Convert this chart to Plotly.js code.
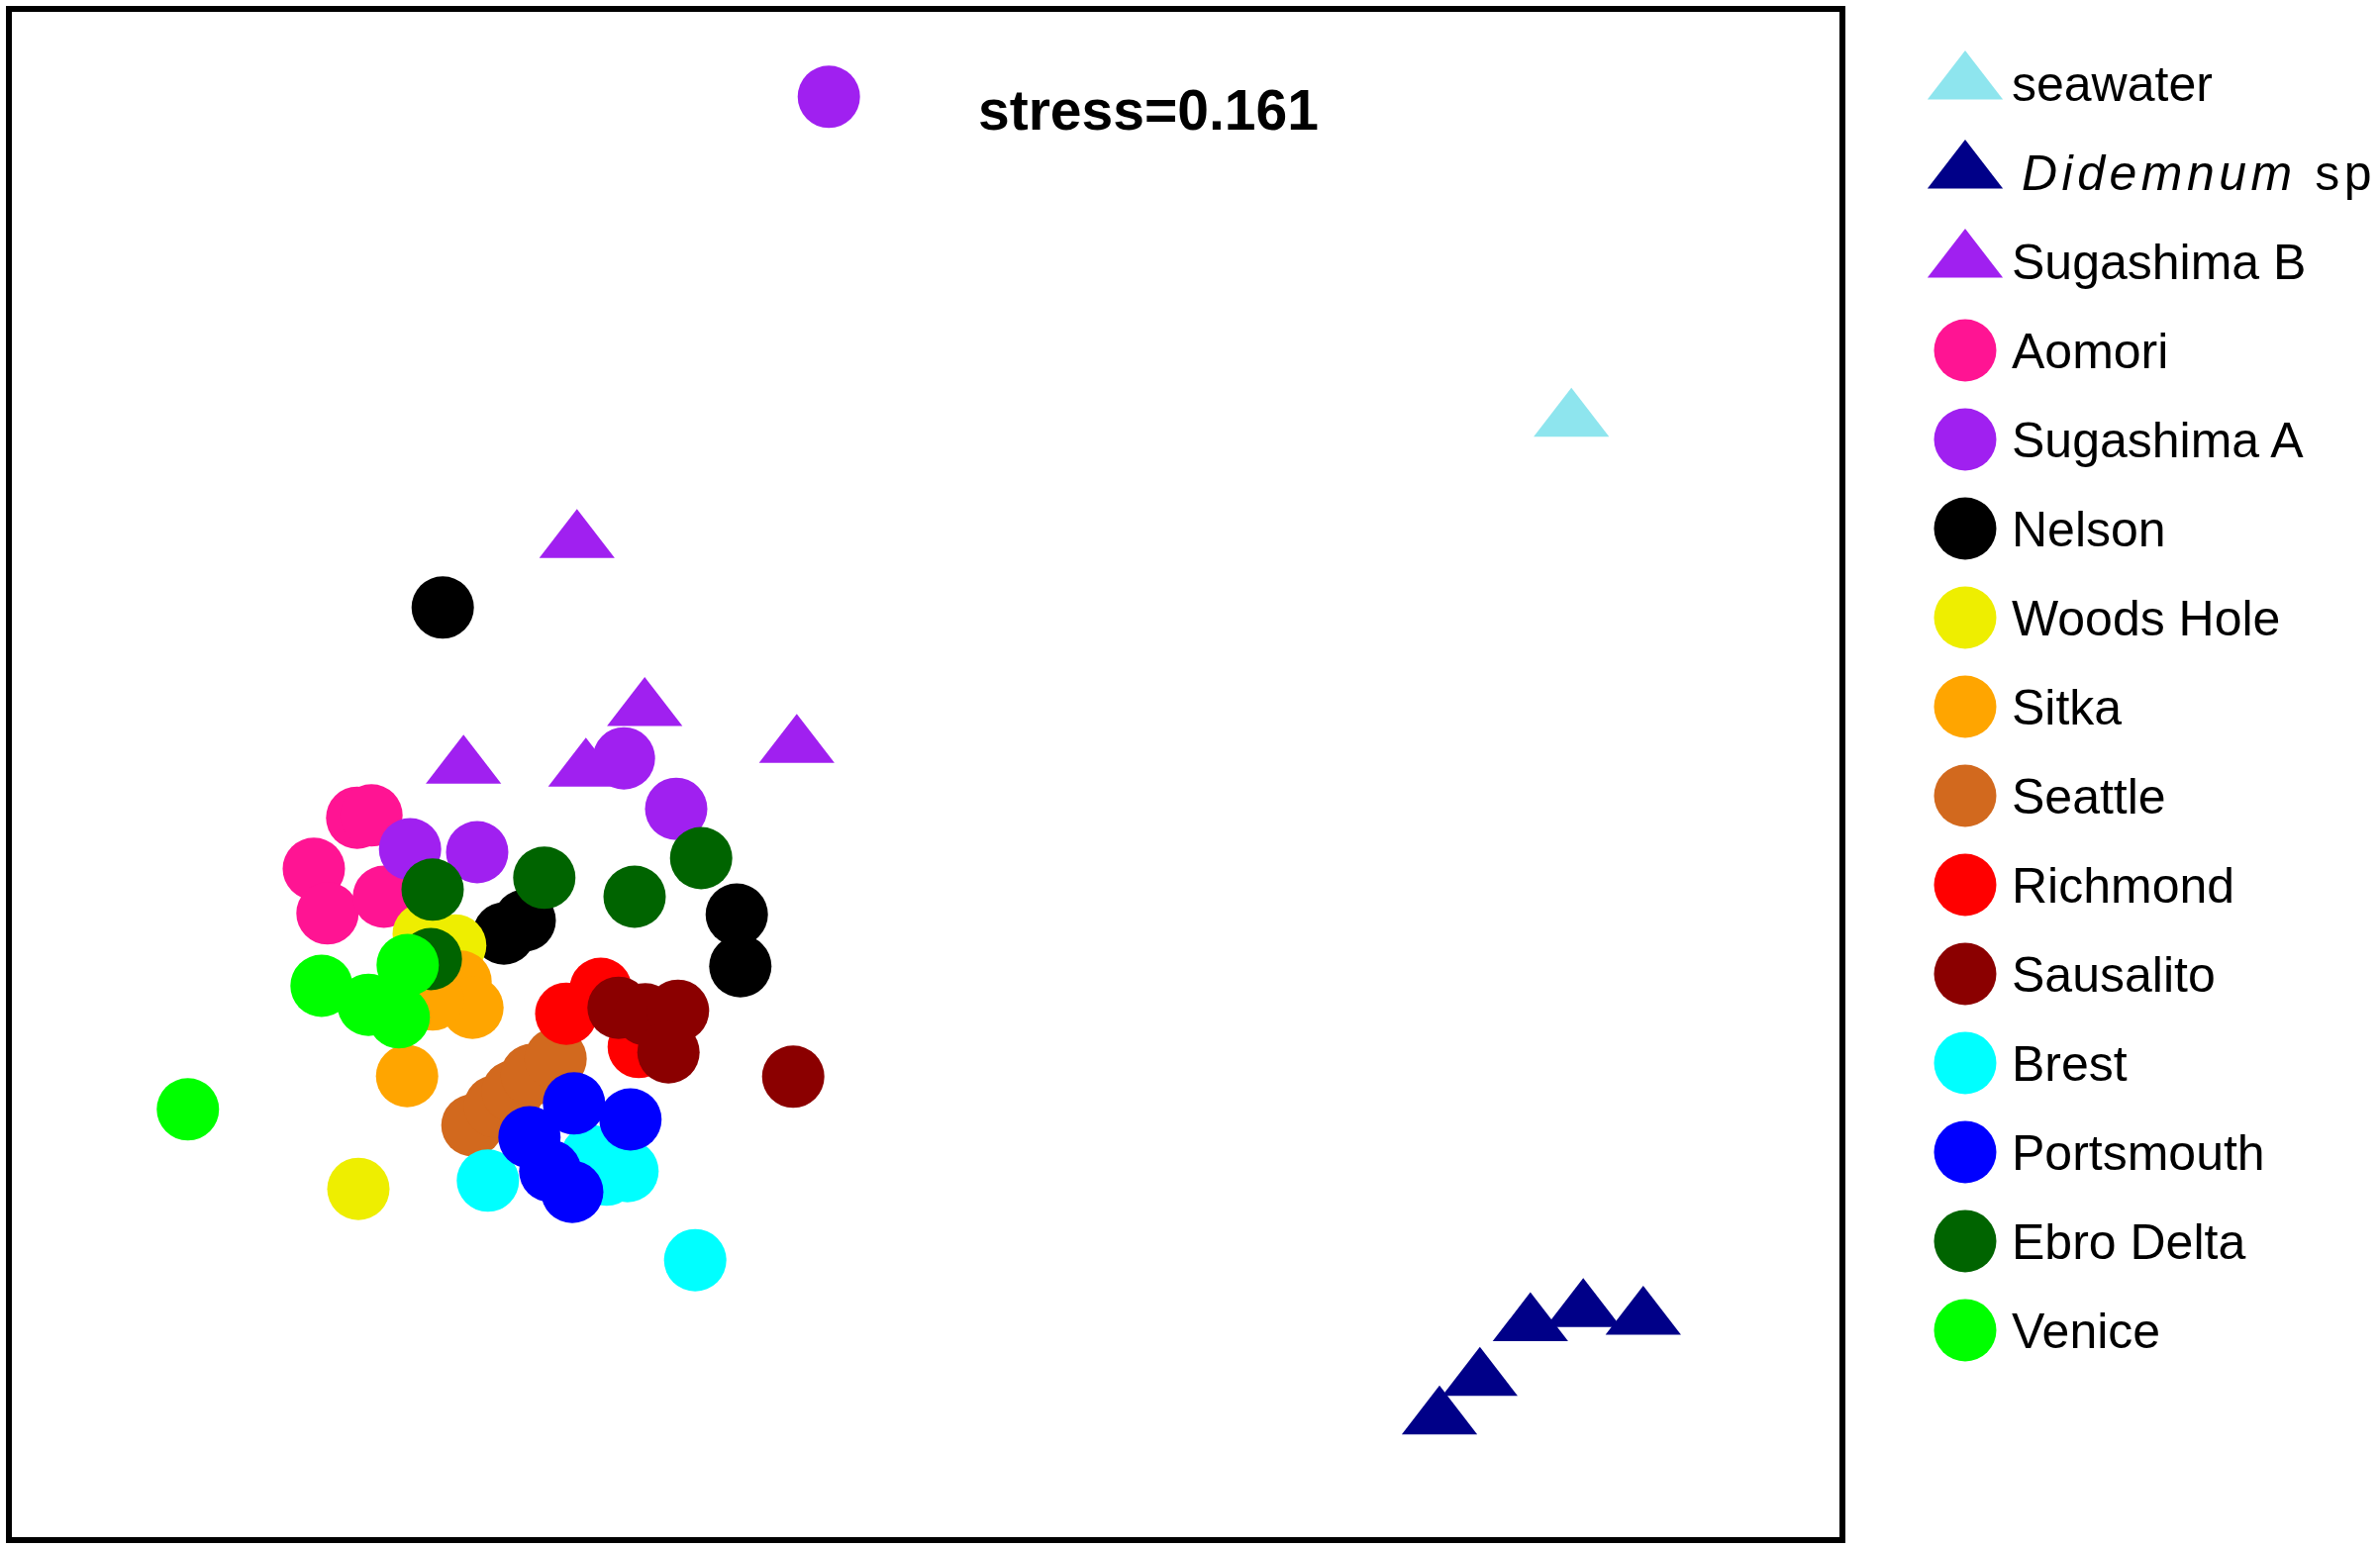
<!DOCTYPE html>
<html>
<head>
<meta charset="utf-8">
<script src="https://cdn.plot.ly/plotly-3.0.1.min.js"></script>
<style>
  html, body { margin: 0; padding: 0; background: #ffffff; }
  #chart { width: 2404px; height: 1565px; }
</style>
</head>
<body>
<div id="chart"></div>
<script>
// ---- Data (NMDS ordination) ----
const categories = ["seawater", "Didemnum sp", "Sugashima B", "Aomori", "Sugashima A", "Nelson",
  "Woods Hole", "Sitka", "Seattle", "Richmond", "Sausalito", "Brest", "Portsmouth", "Ebro Delta", "Venice"];
const legendLabels = ["seawater", "<i>Didemnum</i> sp", "Sugashima B", "Aomori", "Sugashima A", "Nelson",
  "Woods Hole", "Sitka", "Seattle", "Richmond", "Sausalito", "Brest", "Portsmouth", "Ebro Delta", "Venice"];
const colors = ["#8EE5EE", "#000088", "#A020F0", "#FF1493", "#A020F0", "#000000",
  "#EEEE00", "#FFA500", "#D2691E", "#FF0000", "#8B0000", "#00FFFF", "#0000FF", "#006400", "#00FF00"];
const symbols = ["triangle-up", "triangle-up", "triangle-up", "circle", "circle", "circle",
  "circle", "circle", "circle", "circle", "circle", "circle", "circle", "circle", "circle"];

const seawaterX = [1.087];
const seawaterY = [0.597];
const didemnumX = [0.865, 0.933, 1.018, 1.107, 1.208];
const didemnumY = [-1.083, -1.018, -0.926, -0.902, -0.915];
const sugashimaBX = [-0.587, -0.778, -0.572, -0.473, -0.217];
const sugashimaBY = [0.393, 0.013, 0.008, 0.110, 0.048];
const aomoriX = [-0.957, -0.933, -1.030, -1.007, -0.912];
const aomoriY = [-0.072, -0.068, -0.158, -0.233, -0.205];
const sugashimaAX = [-0.163, -0.508, -0.420, -0.868, -0.755];
const sugashimaAY = [1.142, 0.028, -0.057, -0.125, -0.130];
const nelsonX = [-0.813, -0.710, -0.675, -0.318, -0.312];
const nelsonY = [0.282, -0.267, -0.245, -0.235, -0.322];
const woodsHoleX = [-0.845, -0.792, -0.955];
const woodsHoleY = [-0.268, -0.287, -0.697];
const sitkaX = [-0.783, -0.763, -0.830, -0.873];
const sitkaY = [-0.348, -0.392, -0.378, -0.507];
const seattleX = [-0.763, -0.725, -0.695, -0.663, -0.623];
const seattleY = [-0.590, -0.558, -0.533, -0.505, -0.478];
const richmondX = [-0.605, -0.547, -0.483];
const richmondY = [-0.402, -0.360, -0.458];
const sausalitoX = [-0.517, -0.472, -0.417, -0.433, -0.223];
const sausalitoY = [-0.392, -0.403, -0.397, -0.467, -0.508];
const brestX = [-0.737, -0.502, -0.537, -0.562, -0.388];
const brestY = [-0.683, -0.667, -0.673, -0.642, -0.817];
const portsmouthX = [-0.592, -0.497, -0.667, -0.632, -0.595];
const portsmouthY = [-0.553, -0.580, -0.610, -0.667, -0.702];
const ebroX = [-0.830, -0.642, -0.833, -0.490, -0.378];
const ebroY = [-0.193, -0.173, -0.310, -0.205, -0.140];
const veniceX = [-1.242, -1.017, -0.872, -0.938, -0.887];
const veniceY = [-0.563, -0.355, -0.320, -0.387, -0.408];

const stressLabel = "stress=0.161";

const seriesX = [seawaterX, didemnumX, sugashimaBX, aomoriX, sugashimaAX, nelsonX, woodsHoleX,
  sitkaX, seattleX, richmondX, sausalitoX, brestX, portsmouthX, ebroX, veniceX];
const seriesY = [seawaterY, didemnumY, sugashimaBY, aomoriY, sugashimaAY, nelsonY, woodsHoleY,
  sitkaY, seattleY, richmondY, sausalitoY, brestY, portsmouthY, ebroY, veniceY];

// ---- Styling ----
const CIRCLE_SIZE = 63;
const TRI_SIZE = 66;
const sizeFor = s => (s === "triangle-up" ? TRI_SIZE : CIRCLE_SIZE);
const FONT = "Liberation Sans, Arial, sans-serif";

const traces = [];
// main ordination points
categories.forEach((name, i) => {
  traces.push({
    type: "scatter", mode: "markers", name: name,
    x: seriesX[i], y: seriesY[i], xaxis: "x", yaxis: "y",
    marker: { color: colors[i], symbol: symbols[i], size: sizeFor(symbols[i]), line: { width: 0 }, opacity: 1 },
    showlegend: false, hoverinfo: "skip"
  });
});
// key panel: symbols (second axis-less panel so the symbols can be large)
categories.forEach((name, i) => {
  traces.push({
    type: "scatter", mode: "markers", name: name + " (key)",
    x: [0], y: [i], xaxis: "x2", yaxis: "y2",
    marker: { color: colors[i], symbol: symbols[i], size: sizeFor(symbols[i]), line: { width: 0 } },
    cliponaxis: false, showlegend: false, hoverinfo: "skip"
  });
});
// key panel: labels
traces.push({
  type: "scatter", mode: "text", name: "key labels",
  x: categories.map(() => 47), y: categories.map((c, i) => i + 0.06),
  xaxis: "x2", yaxis: "y2",
  text: legendLabels, textposition: "middle right",
  textfont: { family: FONT, size: 50, color: "#000000" },
  cliponaxis: false, showlegend: false, hoverinfo: "skip"
});

const hiddenAxis = {
  showgrid: false, zeroline: false, showline: false, showticklabels: false, ticks: "", fixedrange: true
};

const layout = {
  width: 2404, height: 1565,
  margin: { l: 9, r: 0, t: 9, b: 9, pad: 0 },
  paper_bgcolor: "#ffffff", plot_bgcolor: "#ffffff",
  showlegend: false,
  hovermode: false,
  xaxis: Object.assign({}, hiddenAxis, { domain: [0, 0.77328], range: [-1.5433, 1.5433] }),
  yaxis: Object.assign({}, hiddenAxis, { domain: [0, 1], range: [-1.2883, 1.29] }),
  xaxis2: Object.assign({}, hiddenAxis, { domain: [0.78956, 1], range: [-85, 419], anchor: "y2" }),
  yaxis2: Object.assign({}, hiddenAxis, { domain: [0, 1], range: [16.356, -0.8333], anchor: "x2" }),
  shapes: [{
    type: "rect", xref: "x domain", yref: "y domain", x0: 0, x1: 1, y0: 0, y1: 1,
    line: { color: "#000000", width: 6 }, fillcolor: "rgba(0,0,0,0)", layer: "above"
  }],
  annotations: [{
    xref: "x domain", yref: "y domain", x: 0.6215, y: 0.934,
    xanchor: "center", yanchor: "middle", showarrow: false,
    text: stressLabel,
    font: { family: FONT, size: 57, color: "#000000", weight: "bold" }
  }]
};

Plotly.newPlot("chart", traces, layout, { displayModeBar: false, staticPlot: true }).then(gd => {
  // wide letter spacing of the species label, as in the original key
  gd.querySelectorAll("text").forEach(t => {
    if (t.textContent.indexOf("Didemnum") !== -1) {
      t.setAttribute("letter-spacing", "4.5");
      t.setAttribute("x", String(parseFloat(t.getAttribute("x")) + 10));
    }
  });
});
</script>
</body>
</html>
